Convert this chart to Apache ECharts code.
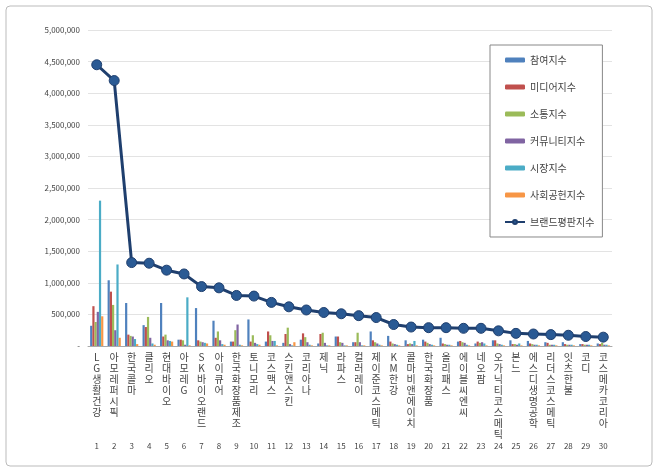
<!DOCTYPE html>
<html><head><meta charset="utf-8">
<script src="https://cdn.jsdelivr.net/npm/echarts@6/dist/echarts.min.js"></script>
<style>html,body{margin:0;padding:0;background:#fff}#c{width:660px;height:474px}</style>
</head><body><div id="c"></div>
<script>
const categories = ['LG생활건강','아모레퍼시픽','한국콜마','클리오','현대바이오','아모레G','SK바이오랜드','아이큐어','한국화장품제조','토니모리','코스맥스','스킨앤스킨','코리아나','제닉','라파스','컬러레이','제이준코스메틱','KM한강','콜마비앤에이치','한국화장품','올리패스','에이블씨엔씨','네오팜','오가닉티코스메틱','본느','에스디생명공학','리더스코스메틱','잇츠한불','코디','코스메카코리아'];
const ranks = categories.map((_, i) => String(i + 1));
const participation = [320000,1040000,680000,330000,680000,100000,600000,400000,70000,420000,70000,50000,100000,40000,150000,60000,230000,160000,90000,100000,130000,70000,40000,90000,90000,80000,60000,60000,30000,40000];
const media = [630000,860000,180000,300000,150000,100000,90000,130000,70000,70000,230000,190000,200000,190000,150000,60000,90000,70000,30000,70000,40000,80000,70000,90000,30000,40000,50000,30000,30000,30000];
const communication = [380000,650000,160000,460000,180000,90000,70000,230000,250000,170000,170000,290000,140000,210000,60000,210000,60000,40000,40000,50000,30000,60000,50000,40000,30000,30000,20000,20000,20000,50000];
const community = [540000,250000,150000,130000,90000,20000,60000,90000,340000,50000,80000,30000,60000,50000,50000,60000,40000,30000,30000,30000,20000,50000,60000,30000,20000,20000,20000,20000,20000,20000];
const market = [2300000,1290000,110000,40000,80000,770000,50000,30000,20000,30000,80000,10000,20000,10000,10000,10000,20000,20000,80000,20000,20000,20000,40000,20000,40000,20000,20000,20000,20000,20000];
const social = [470000,130000,30000,20000,70000,10000,40000,20000,10000,20000,10000,60000,10000,10000,10000,10000,10000,10000,10000,10000,10000,10000,10000,10000,10000,10000,10000,10000,10000,10000];
const brand = [4450000,4200000,1320000,1310000,1200000,1140000,940000,920000,800000,790000,690000,620000,570000,530000,510000,480000,450000,340000,300000,290000,290000,280000,280000,240000,200000,190000,180000,170000,150000,140000];
const yTicks = [0,500000,1000000,1500000,2000000,2500000,3000000,3500000,4000000,4500000,5000000];

const colors = ['#4f81bd','#c0504d','#9bbb59','#8064a2','#4bacc6','#f79646'];
const names = ['참여지수','미디어지수','소통지수','커뮤니티지수','시장지수','사회공헌지수'];
const datas = [participation,media,communication,community,market,social];
const font = 'Noto Sans CJK KR';
const chart = echarts.init(document.getElementById('c'));
const bars = datas.map((d,i)=>({name:names[i],type:'bar',data:d,barWidth:2.2,barGap:'0%',
  itemStyle:{color:colors[i]}}));
chart.setOption({
  animation:false,
  textStyle:{fontFamily:font},
  graphic:[{type:'rect',shape:{x:6,y:6,width:646,height:460,r:4},style:{fill:'none',stroke:'#bbb',lineWidth:1}}],
  legend:{orient:'vertical',left:490,top:45,width:107,height:203,itemGap:17,
    backgroundColor:'#fff',borderColor:'#888',borderWidth:1,padding:[10,8,10,14],
    itemWidth:20,itemHeight:5,textStyle:{fontSize:10,color:'#444',fontFamily:font},
    data:names.concat(['브랜드평판지수'])},
  grid:{left:88,right:48,top:30,bottom:128},
  xAxis:[{type:'category',data:categories,
    axisLine:{lineStyle:{color:'#aaa'}},
    axisTick:{length:108,lineStyle:{color:'#ccc'}},
    axisLabel:{interval:0,fontSize:10,color:'#444',lineHeight:11,margin:6,
      formatter:v=>v.split('').join('\n')}},
   {type:'category',data:ranks,position:'bottom',offset:88,
    axisLine:{show:false},axisTick:{show:false},
    axisLabel:{interval:0,fontSize:8,color:'#444'}}],
  yAxis:{type:'value',min:0,max:5000000,interval:500000,
    axisLine:{show:false},axisTick:{show:false},
    splitLine:{lineStyle:{color:'#e3e3e3'}},
    axisLabel:{fontSize:8,color:'#444',formatter:v=>v===0?'-':v.toLocaleString('en-US')}},
  series:bars.concat([{name:'브랜드평판지수',type:'line',data:brand,symbol:'circle',symbolSize:10,
    lineStyle:{color:'#1f3f6e',width:3},itemStyle:{color:'#2a5a94',borderColor:'#1f3f6e',borderWidth:1}}])
});
</script></body></html>
